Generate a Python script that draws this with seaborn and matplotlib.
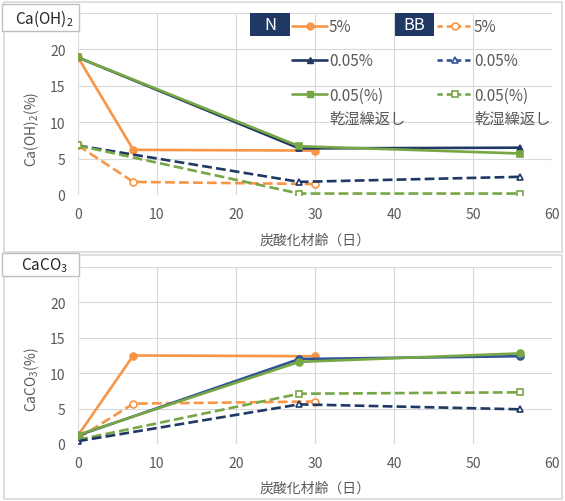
import matplotlib
matplotlib.use("Agg")
import matplotlib.pyplot as plt
import seaborn as sns
from matplotlib.patches import Rectangle
from matplotlib.lines import Line2D

sns.set_theme(style="white")
plt.rcParams['font.family'] = ['Noto Sans CJK JP', 'DejaVu Sans']
plt.rcParams['mathtext.default'] = 'regular'

# colours
orange = '#F79646'
navy = '#1F3864'
blue = '#2F5597'
green = '#77A645'
grid_c = '#D9D9D9'
text_c = '#595959'

# top panel: Ca(OH)2
oh_n5_x = [0, 7, 30]
oh_n5_y = [18.9, 6.2, 6.1]
oh_bb5_x = [0, 7, 30]
oh_bb5_y = [6.8, 1.8, 1.5]
oh_n005_x = [0, 28, 56]
oh_n005_y = [18.9, 6.4, 6.5]
oh_bb005_x = [0, 28, 56]
oh_bb005_y = [6.8, 1.8, 2.5]
oh_nwd_x = [0, 28, 56]
oh_nwd_y = [18.9, 6.7, 5.7]
oh_bbwd_x = [0, 28, 56]
oh_bbwd_y = [6.8, 0.2, 0.2]

# bottom panel: CaCO3
co_n5_x = [0, 7, 30]
co_n5_y = [1.2, 12.5, 12.4]
co_bb5_x = [0, 7, 30]
co_bb5_y = [0.8, 5.7, 6.0]
co_n005_x = [0, 28, 56]
co_n005_y = [1.2, 12.0, 12.4]
co_bb005_x = [0, 28, 56]
co_bb005_y = [0.4, 5.6, 4.9]
co_nwd_x = [0, 28, 56]
co_nwd_y = [1.3, 11.6, 12.8]
co_bbwd_x = [0, 28, 56]
co_bbwd_y = [0.6, 7.1, 7.3]

legend_labels = ['5%', '0.05%', '0.05(%)']
x_ticks = [0, 10, 20, 30, 40, 50, 60]
y_ticks = [0, 5, 10, 15, 20, 25]
y_ticklabels = ['0', '5', '10', '15', '20', '']

W, H = 565, 502
fig = plt.figure(figsize=(W / 100, H / 100), dpi=100)


def fx(px):
    return px / W


def fy(py):
    return 1 - py / H


# panel frames
for top, bot in [(3, 253), (256, 500)]:
    fig.patches.append(Rectangle((fx(4), fy(bot)), fx(558), (bot - top) / H,
                                 transform=fig.transFigure, fill=False,
                                 edgecolor=grid_c, lw=1.2, zorder=0))

ax1 = fig.add_axes([fx(78), fy(196), fx(474), (196 - 14) / H])
ax2 = fig.add_axes([fx(78), fy(445), fx(474), (445 - 268) / H])


def draw(ax, x, y, color, marker, dashed, filled):
    sns.lineplot(x=x, y=y, ax=ax, color=color, marker=marker, lw=1.9,
                 linestyle='--' if dashed else '-',
                 markersize=5, markeredgewidth=1.2,
                 markerfacecolor=color if filled else 'white',
                 markeredgecolor=color, estimator=None)


draw(ax1, oh_n5_x, oh_n5_y, orange, 'o', False, True)
draw(ax1, oh_bb5_x, oh_bb5_y, orange, 'o', True, False)
draw(ax1, oh_bb005_x, oh_bb005_y, navy, '^', True, False)
draw(ax1, oh_bbwd_x, oh_bbwd_y, green, 's', True, False)
draw(ax1, oh_n005_x, oh_n005_y, navy, '^', False, True)
draw(ax1, oh_nwd_x, oh_nwd_y, green, 's', False, True)

draw(ax2, co_n5_x, co_n5_y, orange, 'o', False, True)
draw(ax2, co_bb5_x, co_bb5_y, orange, 'o', True, False)
draw(ax2, co_bbwd_x, co_bbwd_y, green, 's', True, False)
draw(ax2, co_bb005_x, co_bb005_y, navy, '^', True, False)
draw(ax2, co_n005_x, co_n005_y, blue, 'o', False, True)
draw(ax2, co_nwd_x, co_nwd_y, green, 'o', False, True)

for ax, ylab in [(ax1, 'Ca(OH)$_2$(%)'), (ax2, 'CaCO$_3$(%)')]:
    ax.set_xlim(0, 60)
    ax.set_ylim(0, 25)
    ax.set_xticks(x_ticks)
    ax.set_yticks(y_ticks)
    ax.set_yticklabels(y_ticklabels)
    ax.grid(True, color=grid_c, lw=0.8)
    ax.set_axisbelow(True)
    for s in ax.spines.values():
        s.set_visible(False)
    ax.tick_params(axis='x', length=0, labelsize=10, colors=text_c, pad=9)
    ax.tick_params(axis='y', length=0, labelsize=10, colors=text_c, pad=9)
    ax.set_xlabel('炭酸化材齢（日）', fontsize=10, color=text_c)
    ax.xaxis.set_label_coords(0.5, -0.245)
    ax.xaxis.label.set_va('center')
    ax.set_ylabel(ylab, fontsize=10, color=text_c)
    ax.yaxis.set_label_coords(-0.097, 0.368)
    ax.yaxis.label.set_va('center')
    ax.patch.set_alpha(0)

# title boxes
for top, bot, txt in [(5, 32, 'Ca(OH)$_2$'), (254, 277, 'CaCO$_3$')]:
    fig.patches.append(Rectangle((fx(2), fy(bot)), fx(77), (bot - top) / H,
                                 transform=fig.transFigure, facecolor='white',
                                 edgecolor='#BFBFBF', lw=1, zorder=5))
    fig.text(fx(44), fy((top + bot) / 2), txt, ha='center', va='center',
             fontsize=11, color='#262626', zorder=6)

# legend, one entry per row
n_handles = [
    Line2D([], [], color=orange, lw=1.9, marker='o', markersize=5),
    Line2D([], [], color=navy, lw=1.9, marker='^', markersize=5),
    Line2D([], [], color=green, lw=1.9, marker='s', markersize=5),
]
bb_handles = [
    Line2D([], [], color=orange, lw=1.9, ls=(0, (2, 1.5)), marker='o',
           markersize=5, markerfacecolor='white', markeredgewidth=1.2),
    Line2D([], [], color=blue, lw=1.9, ls=(0, (2, 1.5)), marker='^',
           markersize=5, markerfacecolor='white', markeredgewidth=1.2),
    Line2D([], [], color=green, lw=1.9, ls=(0, (2, 1.5)), marker='s',
           markersize=5, markerfacecolor='white', markeredgewidth=1.2),
]
row_y = [28, 62, 96]
for hx, handles in [(292, n_handles), (437, bb_handles)]:
    for h, lab, ry in zip(handles, legend_labels, row_y):
        fig.legend([h], [lab], loc='center left',
                   bbox_to_anchor=(fx(hx), fy(ry)), frameon=False,
                   borderpad=0, borderaxespad=0, handlelength=2.3,
                   handletextpad=0.12, fontsize=11, labelcolor=text_c)
    fig.text(fx(hx + 37), fy(119), '乾湿繰返し', ha='left', va='center',
             fontsize=11, color=text_c)

for x0, x1, txt in [(250, 290, 'N'), (395, 434, 'BB')]:
    fig.patches.append(Rectangle((fx(x0), fy(37)), fx(x1 - x0), 23 / H,
                                 transform=fig.transFigure, facecolor=navy,
                                 edgecolor='none', zorder=5))
    fig.text(fx((x0 + x1) / 2), fy(25.5), txt, ha='center', va='center',
             fontsize=12, color='white', zorder=6)

fig.savefig('out.png', dpi=100)
